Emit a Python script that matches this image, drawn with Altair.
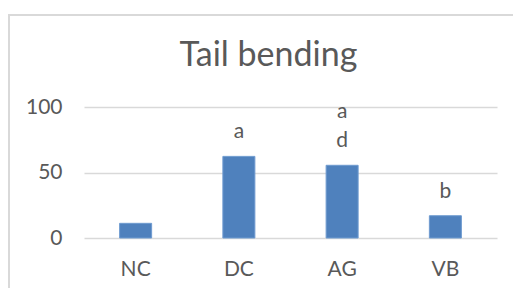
import altair as alt
import pandas as pd

categories = ["NC", "DC", "AG", "VB"]
values = [11.2, 62.3, 55.5, 17.0]
letters_lower = ["", "a", "d", "b"]
letters_upper = ["", "", "a", ""]

df = pd.DataFrame({"cat": categories, "val": values,
                   "low": letters_lower, "up": letters_upper})

FONT = "Lato"
GRAY = "#595959"
GRID = "#d9d9d9"

x = alt.X("cat:N", sort=categories, title=None,
          scale=alt.Scale(paddingInner=0.69, paddingOuter=0.345),
          axis=alt.Axis(labelAngle=0, labelFont=FONT, labelFontSize=21, labelColor=GRAY,
                        domain=False, ticks=False, labelPadding=20))
y = alt.Y("val:Q", title=None,
          scale=alt.Scale(domain=[0, 100], nice=False),
          axis=alt.Axis(values=[0, 50, 100], labelFont=FONT, labelFontSize=21, labelColor=GRAY,
                        domain=False, ticks=False, labelPadding=22, gridColor=GRID, gridWidth=1.5))

bars = alt.Chart(df).mark_bar(color="#4f81bd", stroke="#6f9bd0", strokeWidth=1).encode(x=x, y=y)

text_low = alt.Chart(df).mark_text(font=FONT, fontSize=21, color=GRAY, baseline="bottom",
                                   dy=-14).encode(
    x=alt.X("cat:N", sort=categories), y="val:Q", text="low:N")
text_up = alt.Chart(df).mark_text(font=FONT, fontSize=21, color=GRAY, baseline="bottom",
                                  dy=-43).encode(
    x=alt.X("cat:N", sort=categories), y="val:Q", text="up:N")

border_left = alt.Chart(df).mark_rule(color=GRID, strokeWidth=2).encode(
    x=alt.value(-75), y=alt.value(-91), y2=alt.value(200))
border_top = alt.Chart(df).mark_rule(color=GRID, strokeWidth=2).encode(
    x=alt.value(-76), x2=alt.value(500), y=alt.value(-92))

chart = alt.layer(border_left, border_top, bars, text_low, text_up).properties(
    width=413, height=131,
    autosize=alt.AutoSizeParams(type="none"),
    padding={"left": 76, "top": 99, "right": 16, "bottom": 50},
    title=alt.TitleParams("Tail bending", font=FONT, fontSize=34, fontWeight="normal",
                          color=GRAY, anchor="middle", dx=-22, offset=-59),
).configure_view(stroke=None)

chart.save("out.html", embed_options={"renderer": "svg", "actions": False})
